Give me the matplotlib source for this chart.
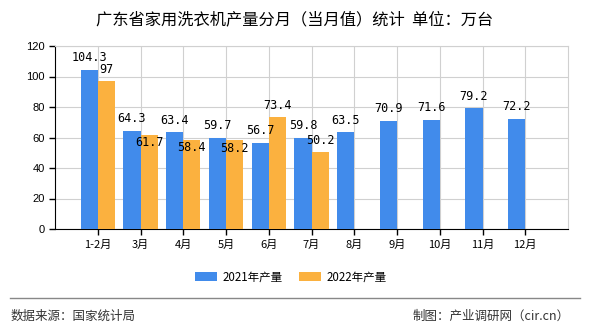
import matplotlib
matplotlib.use('Agg')
import matplotlib.pyplot as plt
import numpy as np

plt.rcParams['font.family'] = ['Noto Sans CJK SC', 'DejaVu Sans']

months = ['1-2月', '3月', '4月', '5月', '6月', '7月', '8月', '9月', '10月', '11月', '12月']
prod_2021 = [104.3, 64.3, 63.4, 59.7, 56.7, 59.8, 63.5, 70.9, 71.6, 79.2, 72.2]
prod_2022 = [97, 61.7, 58.4, 58.2, 73.4, 50.2]
labels_2022 = ['97', '61.7', '58.4', '58.2', '73.4', '50.2']
# labels that sit under the bar top (to avoid the 2021 labels)
below_2022 = [False, True, True, True, False, False]

c21 = '#418BEB'
c22 = '#FBB13F'

fig = plt.figure(figsize=(5.9, 3.3), dpi=100)
ax = fig.add_axes([55/590, 1-229/330, 513/590, 183/330])

x = np.arange(len(months))
x2 = np.arange(len(prod_2022))
w = 0.4
ax.bar(x - w/2, prod_2021, w, color=c21, zorder=3, label='2021年产量')
ax.bar(x2 + w/2, prod_2022, w, color=c22, zorder=3, label='2022年产量')

for xi, v in zip(x, prod_2021):
	ax.annotate('{}'.format(v), (xi - w/2, v), xytext=(0, 4), textcoords='offset points',
		ha='center', va='bottom', fontsize=8.5, family='DejaVu Sans Mono', zorder=4)
for xi, v, t, b in zip(x2, prod_2022, labels_2022, below_2022):
	if b:
		ax.annotate(t, (xi + w/2, v), xytext=(0, -1), textcoords='offset points',
			ha='center', va='top', fontsize=8.5, family='DejaVu Sans Mono', zorder=4)
	else:
		ax.annotate(t, (xi + w/2, v), xytext=(0, 4), textcoords='offset points',
			ha='center', va='bottom', fontsize=8.5, family='DejaVu Sans Mono', zorder=4)

ax.set_xlim(-1, len(months))
ax.set_ylim(0, 120)
ax.set_yticks(range(0, 121, 20))
ax.set_xticks(x)
ax.set_xticklabels(months, fontsize=8)
ax.tick_params(axis='y', labelsize=8, length=4, width=1)
ax.tick_params(axis='x', length=4, width=1)
for lab in ax.get_yticklabels():
	lab.set_family('Liberation Sans')
ax.grid(color='#d0d0d0', lw=0.8, zorder=0)
ax.spines['top'].set_color('#d0d0d0')
ax.spines['right'].set_color('#d0d0d0')
ax.spines['left'].set_color('black')
ax.spines['bottom'].set_color('black')

fig.text(0.5, 1-20/330, '广东省家用洗衣机产量分月（当月值）统计  单位：万台', ha='center', va='center', fontsize=11.7)

fig.legend(loc='center', bbox_to_anchor=(291/590, 1-277/330), ncol=2, frameon=False, fontsize=8.3,
	handlelength=1.9, handleheight=0.8, handletextpad=0.5, columnspacing=1.4)

fig.add_artist(plt.Line2D([10/590, 580/590], [1-298/330, 1-298/330], color='#888888', lw=1))
fig.text(11/590, 1-316/330, '数据来源：国家统计局', ha='left', va='center', fontsize=9, color='#333333')
fig.text(570/590, 1-316/330, '制图：产业调研网（cir.cn）', ha='right', va='center', fontsize=9, color='#333333')

fig.savefig('out.png', dpi=100)
